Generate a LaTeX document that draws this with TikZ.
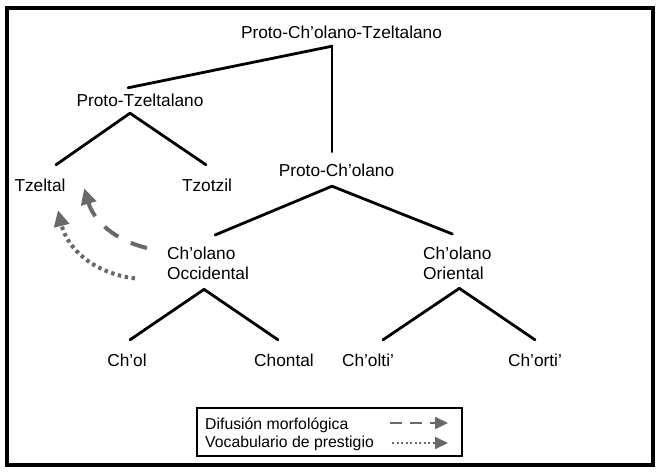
\documentclass[tikz,border=0pt]{standalone}
\usepackage{fontspec}
\setmainfont{Liberation Sans}
\usetikzlibrary{arrows.meta}
\definecolor{arrowgray}{RGB}{105,105,105}
\tikzset{
  lang/.style={inner sep=0pt, text height=12.5pt, text depth=0pt, font=\fontsize{17.3}{20}\selectfont},
  langtwo/.style={inner sep=0pt, anchor=north west, align=left, font=\fontsize{17.3}{20}\selectfont},
  branch/.style={line width=2.8pt},
  diffusion/.style={arrowgray, line width=4pt, line cap=butt, dash pattern=on 17pt off 14pt, -{Triangle[length=16pt,width=15pt]}},
  prestige/.style={arrowgray, line width=4pt, line cap=butt, dash pattern=on 3.5pt off 3.5pt, -{Triangle[length=16pt,width=15pt]}},
  keytext/.style={inner sep=0pt, anchor=west, text height=11.3pt, text depth=0pt, font=\fontsize{15.8}{18}\selectfont},
  keydiffusion/.style={arrowgray, line width=2.2pt, line cap=butt, dash pattern=on 12pt off 8pt, -{Triangle[length=13pt,width=12pt]}},
  keyprestige/.style={arrowgray, line width=2pt, line cap=butt, dash pattern=on 2pt off 2.5pt, -{Triangle[length=13pt,width=12pt]}}
}
\begin{document}
\begin{tikzpicture}[x=1pt,y=-1pt,cap=round,>=latex]
        % page size and the outer frame
        \useasboundingbox (0,0) rectangle (661,474);
        \draw[line width=4.5pt] (7,8) rectangle (653,465);
        % the languages
        \node[lang] (root) at (341.5,32) {Proto-Ch'olano-Tzeltalano};
        \node[lang] (ptz) at (140,100) {Proto-Tzeltalano};
        \node[lang] (tzel) at (40,185) {Tzeltal};
        \node[lang] (tzot) at (207,185) {Tzotzil};
        \node[lang] (pch) at (336.5,170) {Proto-Ch'olano};
        \node[langtwo] (occ) at (167,246.5) {Ch'olano\\Occidental};
        \node[langtwo] (ori) at (423,246.5) {Ch'olano\\Oriental};
        \node[lang] (chol) at (127,360) {Ch'ol};
        \node[lang] (chon) at (284,360) {Chontal};
        \node[lang] (colti) at (368,360) {Ch'olti'};
        \node[lang] (corti) at (535,360) {Ch'orti'};
        % draw the branches, parent foot to child head
        \foreach \a/\ax/\ay/\b/\bx/\by in {
            root/-9.5pt/-7.75pt/ptz/-12pt/5.75pt,
            root/-9.5pt/-7.75pt/pch/-4.5pt/11.75pt,
            ptz/-10pt/-6.75pt/tzel/16pt/13.75pt,
            ptz/-10pt/-6.75pt/tzot/-1pt/13.75pt,
            pch/-4.5pt/-9.75pt/occ/7pt/11.5pt,
            pch/-4.5pt/-9.75pt/ori/-5pt/12.5pt,
            occ/-4pt/-9.75pt/chol/3pt/13.75pt,
            occ/-4pt/-9.75pt/chon/-6pt/13.75pt,
            ori/2pt/-8.75pt/colti/15pt/13.75pt,
            ori/2pt/-8.75pt/corti/0pt/13.75pt}
                \draw[branch] ([xshift=\ax,yshift=\ay]\a.south) -- ([xshift=\bx,yshift=\by]\b.north);
        % contact arrows from Ch'olano Occidental to Tzeltal
        \draw[diffusion] ([xshift=-20pt,yshift=-1.5pt]occ.north west) to[bend left=30] ([xshift=18.5pt,yshift=3.25pt]tzel.south east);
        \draw[prestige] ([xshift=-32pt,yshift=1.25pt]occ.south west) to[bend left=35] ([xshift=18pt,yshift=-18.75pt]tzel.south);

% the legend
\node[draw, line width=1.3pt, minimum width=265pt, minimum height=48pt, inner sep=0pt] (key) at (329.5,432) {};
\node[keytext] (keydif) at (205,424) {Difusión morfológica};
\node[keytext] (keyvoc) at (205,442) {Vocabulario de prestigio};
\coordinate (difstart) at (390,423);
\coordinate (difend) at (448,423);
\coordinate (vocstart) at (392,443);
\coordinate (vocend) at (448,443);
\draw[keydiffusion] (difstart) -- (difend);
\draw[keyprestige] (vocstart) -- (vocend);
    \end{tikzpicture}
\end{document}
